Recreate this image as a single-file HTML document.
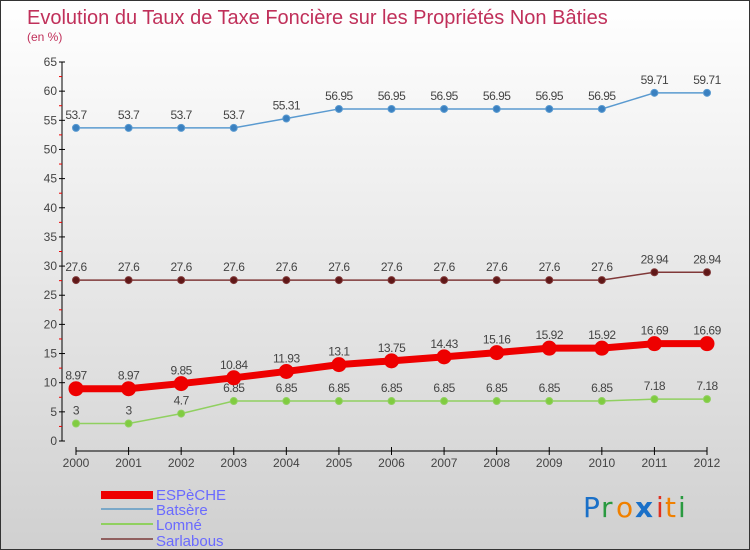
<!DOCTYPE html>
<html><head><meta charset="utf-8"><style>
body{margin:0}
#c{width:750px;height:550px;position:relative;overflow:hidden;box-sizing:border-box;border:1px solid #333;background:linear-gradient(#fff,#d0d0d0);font-family:"Liberation Sans",sans-serif}
</style></head><body>
<div id="c">
<svg id="s" width="750" height="550" style="position:absolute;left:0;top:0">
<text x="26" y="23" font-size="20" fill="#c0305a">Evolution du Taux de Taxe Foncière sur les Propriétés Non Bâties</text>
<text x="26" y="40" font-size="12" fill="#c0305a">(en %)</text>
<g id="ax"></g>
<g id="ser"></g>
<g>
<g><rect x="100" y="490" width="52" height="8" fill="#e00"/><text x="155" y="499" font-size="15" fill="#6a6aff">ESPèCHE</text></g>
<g><rect x="100" y="507" width="52" height="2" fill="#7aa8c8"/><text x="155" y="514" font-size="15" fill="#6a6aff">Batsère</text></g>
<g><rect x="100" y="522" width="52" height="2" fill="#90d060"/><text x="155" y="529" font-size="15" fill="#6a6aff">Lomné</text></g>
<g><rect x="100" y="537" width="52" height="2" fill="#906060"/><text x="155" y="545" font-size="15" fill="#6a6aff">Sarlabous</text></g>
</g>
<g font-size="28" font-family="DejaVu Sans,sans-serif">
<text x="582" y="516" fill="#1a70c8">P</text><text x="600" y="516" fill="#2a9a40">r</text><text x="615" y="516" fill="#f08000">o</text><text x="634" y="516" fill="#1a70c8" font-weight="bold">x</text><text x="655" y="516" fill="#e03020">i</text><text x="664" y="516" fill="#f08000">t</text><text x="677" y="516" fill="#2a9a40">i</text>
</g>
</svg>
</div>
<script>
const years=[2000,2001,2002,2003,2004,2005,2006,2007,2008,2009,2010,2011,2012];
const yTicks=[0,5,10,15,20,25,30,35,40,45,50,55,60,65];
const espeche=[8.97,8.97,9.85,10.84,11.93,13.1,13.75,14.43,15.16,15.92,15.92,16.69,16.69];
const batsere=[53.7,53.7,53.7,53.7,55.31,56.95,56.95,56.95,56.95,56.95,56.95,59.71,59.71];
const lomne=[3,3,4.7,6.85,6.85,6.85,6.85,6.85,6.85,6.85,6.85,7.18,7.18];
const sarlabous=[27.6,27.6,27.6,27.6,27.6,27.6,27.6,27.6,27.6,27.6,27.6,28.94,28.94];
const NS="http://www.w3.org/2000/svg";
const xs=i=>75+i*(706-75)/(years.length-1);
const ys=v=>440-v*(379/65);
function el(t,a,p){const e=document.createElementNS(NS,t);for(const k in a)e.setAttribute(k,a[k]);p.appendChild(e);return e;}
const ax=document.getElementById('ax'),ser=document.getElementById('ser');
let l=el('line',{x1:61,y1:61,x2:61,y2:440,stroke:'#000'},ax);

yTicks.forEach(v=>{
 el('line',{x1:58,x2:64,y1:ys(v),y2:ys(v),stroke:'#000'},ax);
 if(v<65)el('line',{x1:58,x2:61,y1:ys(v+2.5),y2:ys(v+2.5),stroke:'#e00'},ax);
 const t=el('text',{x:56,y:ys(v)+4,'font-size':12,fill:'#444','text-anchor':'end'},ax);t.textContent=v;
 
});
l=el('line',{x1:75,y1:450,x2:706,y2:450,stroke:'#000'},ax);

years.forEach((y,i)=>{
 el('line',{x1:xs(i),x2:xs(i),y1:446,y2:454,stroke:'#000'},ax);
 const t=el('text',{x:xs(i),y:466,'font-size':12,fill:'#444','text-anchor':'middle'},ax);t.textContent=y;
 
});
function series(name,data,color,w,r,fill){
 const g=el('g',{},ser);
 
 el('polyline',{points:data.map((v,i)=>xs(i)+','+ys(v)).join(' '),fill:'none',stroke:color,'stroke-width':w},g);
 data.forEach((v,i)=>{
  const c=el('circle',{cx:xs(i),cy:ys(v),r:r,fill:fill,stroke:color,'stroke-width':1},g);
  
  const t=el('text',{x:xs(i),y:ys(v)-9,'font-size':12,fill:'#444','text-anchor':'middle','letter-spacing':'-0.5'},g);t.textContent=v;
  
 });
}
series('batsere',batsere,'#5a9ad0',1.5,3.5,'#3a80c0');
series('sarlabous',sarlabous,'#803838',1.5,3.5,'#601818');
series('lomne',lomne,'#90d060',1.5,3.5,'#80cc40');
series('espeche',espeche,'#ee0000',7,7,'#ee0000');
</script>
</body></html>
